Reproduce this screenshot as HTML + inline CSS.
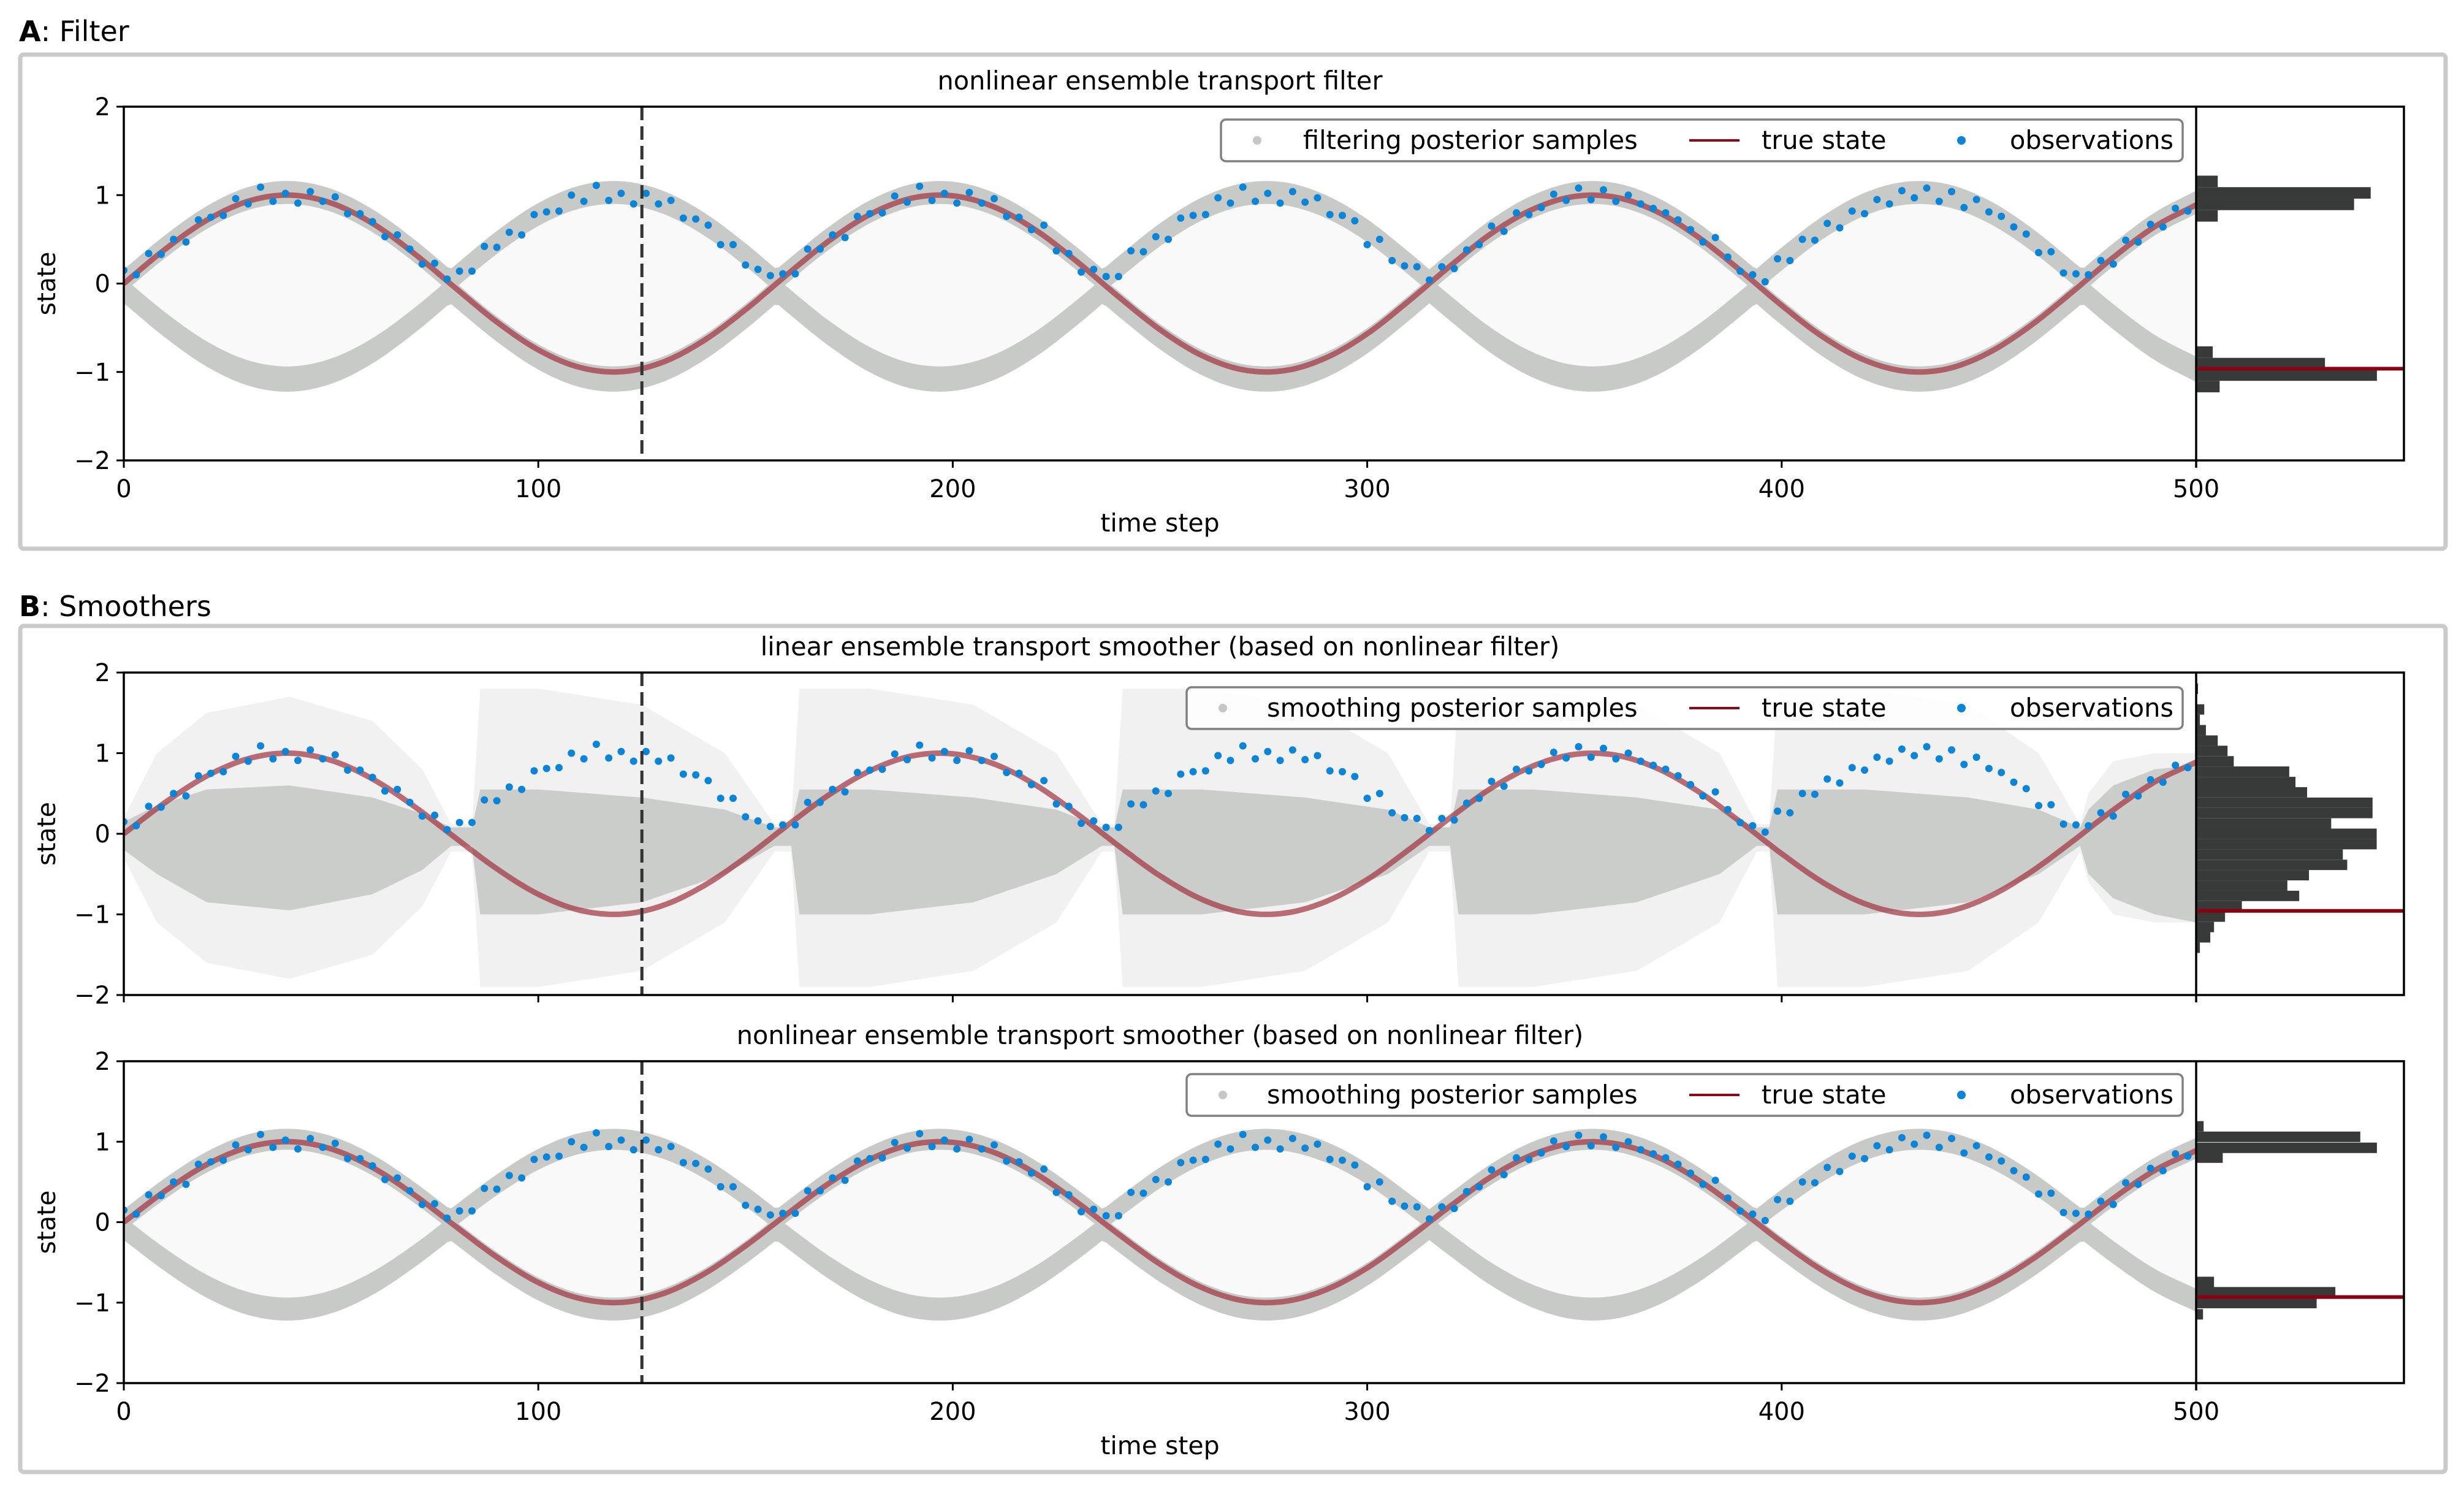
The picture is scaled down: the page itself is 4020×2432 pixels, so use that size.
<!DOCTYPE html>
<html><head><meta charset="utf-8">
<style>
html,body{margin:0;padding:0;background:#fff;}
svg{display:block;font-family:"DejaVu Sans","Liberation Sans",sans-serif;}
</style></head>
<body>
<svg id="fig" width="4020" height="2432" viewBox="0 0 4020 2432" xmlns="http://www.w3.org/2000/svg">
<rect x="0" y="0" width="4020" height="2432" fill="#fff"/>
<rect x="33" y="89" width="3957" height="806" rx="6" fill="none" stroke="#c8cbc8" stroke-width="7"/>
<rect x="33" y="1021" width="3957" height="1380" rx="6" fill="none" stroke="#c8cbc8" stroke-width="7"/>
<text x="31" y="67" font-size="46"><tspan font-weight="bold">A</tspan>: Filter</text>
<text x="31" y="1005" font-size="46"><tspan font-weight="bold">B</tspan>: Smoothers</text>
<g id="plots"></g>
</svg>
<script>
// ---- data ----
const trueT = [0,10,20,30,40,50,60,70,80,90,100,110,120,130,140,150,160,170,180,190,200,210,220,230,240,250,260,270,280,290,300,310,320,330,340,350,360,370,380,390,400,410,420,430,440,450,460,470,480,490,500];
const trueState = [0,0.389,0.716,0.931,1.0,0.911,0.680,0.342,-0.050,-0.434,-0.750,-0.948,-0.997,-0.890,-0.643,-0.295,0.100,0.478,0.781,0.964,0.992,0.866,0.605,0.247,-0.149,-0.521,-0.811,-0.975,-0.985,-0.841,-0.568,-0.198,0.198,0.568,0.841,0.985,0.975,0.811,0.521,0.149,-0.247,-0.605,-0.866,-0.992,-0.964,-0.781,-0.478,-0.100,0.295,0.643,0.890];
const obsStep = 3;
const observations = [
.15,.10,.34,.33,.50,.47,.72,.75,.77,.96,.90,1.09,.93,1.02,.91,1.04,.93,.98,.79,.79,.70,.53,.55,.39,.22,.23,.05,
.14,.14,.42,.41,.58,.55,.78,.81,.82,1.00,.93,1.11,.94,1.02,.90,1.02,.90,.94,.74,.73,.66,.44,.44,.21,.16,.09,
.11,.11,.39,.39,.55,.52,.76,.79,.80,.99,.92,1.10,.94,1.02,.91,1.03,.91,.96,.76,.75,.61,.66,.37,.34,.13,.16,
.08,.08,.37,.36,.53,.50,.74,.77,.78,.97,.91,1.09,.93,1.02,.91,1.04,.92,.97,.78,.77,.71,.44,.50,.26,.20,.19,
.04,.19,.17,.38,.44,.65,.59,.80,.78,.86,1.01,.94,1.08,.95,1.06,.93,1.00,.90,.85,.80,.72,.61,.47,.52,.30,.14,.10,
.02,.28,.26,.50,.49,.68,.63,.82,.79,.95,.90,1.05,.97,1.08,.93,1.04,.86,.95,.81,.76,.64,.56,.35,.36,.12,.11,
.10,.26,.22,.49,.47,.67,.64,.85,.82];
const bandHalfWidth = 0.13;
// linear smoother cloud knots
const cloudT = [0,8,20,40,60,72,79,84,86,100,125,145,157,161,163,180,205,225,236,239,241,260,285,305,315,320,322,340,365,385,394,397,399,420,445,462,472,474,480,490,500];
const cloudOuter = [.2,1.0,1.5,1.7,1.4,.8,.12,.12,1.8,1.8,1.6,1.0,.12,.12,1.8,1.8,1.6,1.0,.12,.12,1.8,1.8,1.6,1.0,.12,.12,1.8,1.8,1.6,1.0,.12,.12,1.8,1.8,1.6,1.0,.12,.5,.9,1.0,1.0];
const cloudCoreHi = [.15,.35,.55,.6,.45,.25,.08,.08,.55,.55,.45,.3,.08,.08,.55,.55,.45,.3,.08,.08,.55,.55,.45,.3,.08,.08,.55,.55,.45,.3,.08,.08,.55,.55,.45,.3,.08,.3,.6,.8,.85];
const cloudCoreLo = [-.2,-.5,-.85,-.95,-.75,-.45,-.15,-.15,-1.0,-1.0,-.85,-.5,-.15,-.15,-1.0,-1.0,-.85,-.5,-.15,-.15,-1.0,-1.0,-.85,-.5,-.15,-.15,-1.0,-1.0,-.85,-.5,-.15,-.15,-1.0,-1.0,-.85,-.5,-.15,-.5,-.8,-1.0,-1.1];
// histograms (bin lower edges, width, counts)
const histALo = [-1.23,-1.10,-0.97,-0.84,0.70,0.83,0.96,1.09];
const histAW = 0.13;
const histACounts = [11.3,87,62,8,10.4,76,84,10.4];
const histARef = -0.963;
const histB1Lo = [1.735,1.606,1.478,1.349,1.221,1.092,0.964,0.835,0.707,0.578,0.450,0.321,0.193,0.064,-0.064,-0.193,-0.321,-0.450,-0.578,-0.707,-0.835,-0.964,-1.092,-1.221,-1.349,-1.478];
const histB1W = 0.1285;
const histB1Counts = [0.9,0,3.9,1.8,4.7,10.4,15.1,18.1,44.8,47.8,53.4,84.9,84.9,65,86.9,86.9,70.6,72.7,54.3,43.9,49.6,22,13.9,8.6,6.8,1.8];
const histB1Ref = -0.956;
const histB2Lo = [-1.21,-1.07,-0.936,-0.808,0.737,0.859,0.996,1.126];
const histB2W = 0.13;
const histB2Counts = [3.3,58,67,8.6,12.8,87,79,3.6];
const histB2Ref = -0.93;
const xTicks = [0,100,200,300,400,500];
const yTicks = [-2,-1,0,1,2];
const dashedT = 125;

// ---- helpers ----
const NS = "http://www.w3.org/2000/svg";
const root = document.getElementById('plots');
function mk(tag, attrs, parent){ const e=document.createElementNS(NS,tag); for(const k in attrs) e.setAttribute(k,attrs[k]); (parent||root).appendChild(e); return e; }
function interpCubic(ts, vs, t){
  let i=0; while(i<ts.length-2 && t>ts[i+1]) i++;
  const t0=ts[i], t1=ts[i+1], h=t1-t0, u=(t-t0)/h;
  const p0=vs[i], p1=vs[i+1];
  const m0 = i>0 ? (vs[i+1]-vs[i-1])/(ts[i+1]-ts[i-1])*h : (p1-p0);
  const m1 = i+2<ts.length ? (vs[i+2]-vs[i])/(ts[i+2]-ts[i])*h : (p1-p0);
  const u2=u*u,u3=u2*u;
  return (2*u3-3*u2+1)*p0+(u3-2*u2+u)*m0+(-2*u3+3*u2)*p1+(u3-u2)*m1;
}
function interpLin(ts, vs, t){
  let i=0; while(i<ts.length-2 && t>ts[i+1]) i++;
  const u=(t-ts[i])/(ts[i+1]-ts[i]); return vs[i]+(vs[i+1]-vs[i])*u;
}
const fineT = []; for(let t=0;t<=500;t+=1) fineT.push(t);

function drawPanel(P){
  const x0=202,x1=3583,hx1=3922;
  const sx=t=>x0+t*(x1-x0)/500;
  const sy=v=>P.yTop+(2-v)*(P.yBot-P.yTop)/4;
  const hx=c=>x1+c*(hx1-x1)/100;
  const g=mk('g',{});
  
  
  const clipId='clip-'+P.key;
  const cp=mk('clipPath',{id:clipId},g);
  mk('rect',{x:x0,y:P.yTop,width:x1-x0,height:P.yBot-P.yTop},cp);
  const cg=mk('g',{'clip-path':'url(#'+clipId+')'},g);

  if(P.type==='bands'){
    const up=[],upL=[],lo=[],loH=[];
    fineT.forEach(t=>{ const a=Math.abs(interpCubic(trueT,trueState,t))+0.03;
      up.push([sx(t),sy(a+bandHalfWidth)]); upL.push([sx(t),sy(a-bandHalfWidth)]);
      lo.push([sx(t),sy(-a-0.05-bandHalfWidth*1.1)]); loH.push([sx(t),sy(-a-0.05+bandHalfWidth*1.1)]); });
    const pts=a=>a.map(p=>p[0].toFixed(1)+','+p[1].toFixed(1)).join(' ');
    const faint=mk('polygon',{points:pts(upL)+' '+pts(loH.slice().reverse()),fill:'#f9f9f9'},cg);
    
    
    const b1=mk('polygon',{points:pts(up)+' '+pts(upL.slice().reverse()),fill:'#c8cac8'},cg);
    
    
    const b2=mk('polygon',{points:pts(loH)+' '+pts(lo.slice().reverse()),fill:'#c8cac8'},cg);
    
    
  } else {
    const oh=[],ol=[],ch=[],cl=[];
    fineT.forEach(t=>{ const o=interpLin(cloudT,cloudOuter,t);
      oh.push([sx(t),sy(o)]); ol.push([sx(t),sy(-o-0.1)]);
      ch.push([sx(t),sy(interpLin(cloudT,cloudCoreHi,t))]); cl.push([sx(t),sy(interpLin(cloudT,cloudCoreLo,t))]); });
    const pts=a=>a.map(p=>p[0].toFixed(1)+','+p[1].toFixed(1)).join(' ');
    const outer=mk('polygon',{points:pts(oh)+' '+pts(ol.slice().reverse()),fill:'#f1f1f1'},cg);
    
    
    const core=mk('polygon',{points:pts(ch)+' '+pts(cl.slice().reverse()),fill:'#cbcdcb'},cg);
    
    
  }
  // true state
  const d=fineT.map((t,i)=>(i?'L':'M')+sx(t).toFixed(1)+','+sy(interpCubic(trueT,trueState,t)).toFixed(1)).join('');
  const tl=mk('path',{d:d,fill:'none',stroke:'#a0323c','stroke-opacity':'0.7','stroke-width':'9'},cg);
  
  
  // observations
  observations.forEach((v,i)=>{
    const c=mk('circle',{cx:sx(i*obsStep),cy:sy(v),r:6,fill:'#0a84d6'},cg);
    
    
  });
  // dashed line
  const dl=mk('line',{x1:sx(dashedT),x2:sx(dashedT),y1:P.yTop,y2:P.yBot,stroke:'#333','stroke-width':'5','stroke-dasharray':'22,10'},g);
  
  
  // histogram
  P.hLo.forEach((lo,i)=>{
    if(P.hC[i]<=0) return;
    const r=mk('rect',{x:x1,y:sy(lo+P.hW),width:hx(P.hC[i])-x1,height:sy(lo)-sy(lo+P.hW),fill:'#383a39'},g);
    
    
  });
  const rl=mk('line',{x1:x1,x2:hx1,y1:sy(P.hRef),y2:sy(P.hRef),stroke:'#8b0011','stroke-width':'6'},g);
  
  
  // frame
  const fr=mk('rect',{x:x0,y:P.yTop,width:hx1-x0,height:P.yBot-P.yTop,fill:'none',stroke:'#000','stroke-width':'3.5'},g);
  
  
  const sep=mk('line',{x1:x1,x2:x1,y1:P.yTop,y2:P.yBot+12,stroke:'#000','stroke-width':'3.5'},g);
  
  
  // y ticks
  yTicks.forEach(v=>{
    mk('line',{x1:x0-12,x2:x0,y1:sy(v),y2:sy(v),stroke:'#000','stroke-width':'3'},g);
    const t=mk('text',{x:x0-22,y:sy(v)+14,'font-size':'40','text-anchor':'end'},g);
    t.textContent=(v<0?'\u2212'+(-v):String(v));
    
    
  });
  // x ticks
  xTicks.forEach(v=>{
    mk('line',{x1:sx(v),x2:sx(v),y1:P.yBot,y2:P.yBot+12,stroke:'#000','stroke-width':'3'},g);
    if(P.xLabels){
      const t=mk('text',{x:sx(v),y:P.yBot+60,'font-size':'40','text-anchor':'middle'},g);
      t.textContent=String(v);
      
      
    }
  });
  if(P.xLabels){
    const xt=mk('text',{x:(x0+x1)/2,y:P.yBot+116,'font-size':'41','text-anchor':'middle'},g);
    xt.textContent='time step';
    
    
  }
  const yc=(P.yTop+P.yBot)/2;
  const yt=mk('text',{x:90,y:yc,'font-size':'41','text-anchor':'middle',transform:'rotate(-90 90 '+yc+')'},g);
  yt.textContent='state';
  
  
  const ti=mk('text',{x:(x0+x1)/2,y:P.yTop-28,'font-size':'41.5','text-anchor':'middle'},g);
  ti.textContent=P.title;
  
  
  // legend
  const L=P.leg;
  const lg=mk('g',{},g);
  
  
  mk('rect',{x:L.x,y:L.y,width:3561-L.x,height:68,rx:8,fill:'#fff','fill-opacity':'0.85',stroke:'#808080','stroke-width':'3.5'},lg);
  const cy=L.y+34;
  mk('circle',{cx:L.dot,cy:cy,r:7,fill:'#c5c7c5'},lg);
  const l1=mk('text',{x:L.txt,y:cy+14,'font-size':'41.5'},lg); l1.textContent=L.label;
  
  
  mk('line',{x1:2756,x2:2838,y1:cy,y2:cy,stroke:'#8b0a1a','stroke-width':'4'},lg);
  const l2=mk('text',{x:2874,y:cy+14,'font-size':'41.5'},lg); l2.textContent='true state';
  
  
  mk('circle',{cx:3200,cy:cy,r:7,fill:'#0a84d6'},lg);
  const l3=mk('text',{x:3279,y:cy+14,'font-size':'41.5'},lg); l3.textContent='observations';
  
  
}

drawPanel({key:'filter',type:'bands',yTop:174,yBot:751,xLabels:true,title:'nonlinear ensemble transport filter',
  hLo:histALo,hW:histAW,hC:histACounts,hRef:histARef,
  leg:{x:1992,y:195,dot:2051,txt:2126,label:'filtering posterior samples'}});
drawPanel({key:'linear-smoother',type:'cloud',yTop:1097,yBot:1623,xLabels:false,title:'linear ensemble transport smoother (based on nonlinear filter)',
  hLo:histB1Lo,hW:histB1W,hC:histB1Counts,hRef:histB1Ref,
  leg:{x:1936,y:1121,dot:1995,txt:2067,label:'smoothing posterior samples'}});
drawPanel({key:'nonlinear-smoother',type:'bands',yTop:1731,yBot:2256,xLabels:true,title:'nonlinear ensemble transport smoother (based on nonlinear filter)',
  hLo:histB2Lo,hW:histB2W,hC:histB2Counts,hRef:histB2Ref,
  leg:{x:1936,y:1752,dot:1995,txt:2067,label:'smoothing posterior samples'}});
</script>
</body></html>
